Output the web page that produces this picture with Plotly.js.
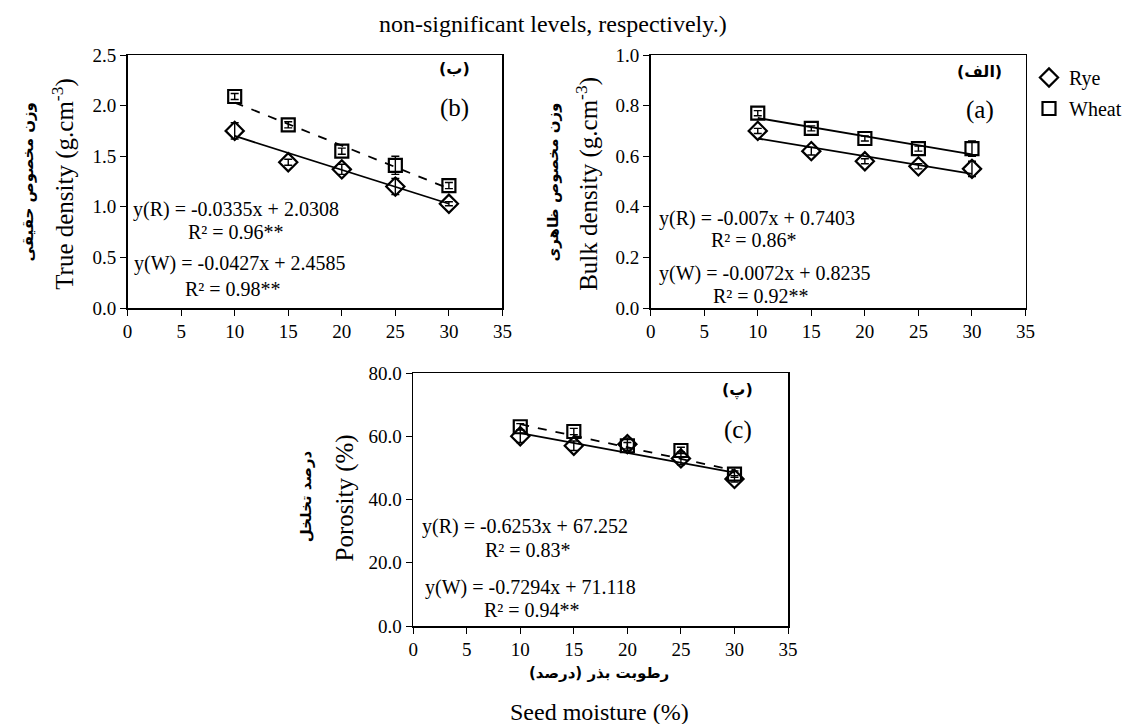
<!DOCTYPE html>
<html><head><meta charset="utf-8">
<script src="https://cdn.plot.ly/plotly-3.0.1.min.js"></script>
<style>html,body{margin:0;padding:0;background:#fff}#chart{width:1127px;height:724px}</style>
</head><body><div id="chart"></div>
<script>
// ---- data ----
const moisture = [10, 15, 20, 25, 30];
const fitX = [10, 30];
// (b) true density
const trueRye = [1.75, 1.44, 1.37, 1.20, 1.03];
const trueRyeErr = [0.08, 0.03, 0.05, 0.08, 0.02];
const trueWheat = [2.09, 1.81, 1.55, 1.41, 1.21];
const trueWheatErr = [0.03, 0.03, 0.03, 0.09, 0.03];
const trueRyeFit = [1.70, 1.03];
const trueWheatFit = [2.03, 1.18];
// (a) bulk density
const bulkRye = [0.70, 0.62, 0.58, 0.56, 0.55];
const bulkRyeErr = [0.01, 0.015, 0.01, 0.01, 0.03];
const bulkWheat = [0.77, 0.71, 0.67, 0.63, 0.63];
const bulkWheatErr = [0.01, 0.01, 0.01, 0.01, 0.03];
const bulkRyeFit = [0.670, 0.530];
const bulkWheatFit = [0.751, 0.607];
// (c) porosity
const porRye = [60.0, 57.0, 57.5, 53.0, 46.5];
const porRyeErr = [2.0, 1.5, 2.0, 2.0, 1.0];
const porWheat = [63.0, 61.5, 57.0, 55.5, 48.0];
const porWheatErr = [1.0, 1.0, 1.0, 1.0, 1.0];
const porRyeFit = [61.0, 48.5];
const porWheatFit = [63.8, 49.2];
const xTicks = [0, 5, 10, 15, 20, 25, 30, 35];
const seriesNames = ['Rye', 'Wheat'];

const serif = 'Liberation Serif';
const W = 1127, H = 724;
const px = (x) => x / W, py = (y) => 1 - y / H;

function markers(xa, ya, y, err, sym, name, show) {
  return {x: moisture, y: y, xaxis: xa, yaxis: ya, type: 'scatter', mode: 'markers',
    name: name, showlegend: show, legendgroup: name,
    marker: {symbol: sym, size: sym === 'diamond-open' ? 14 : 13, color: '#000', line: {width: 2.2, color: '#000'}},
    error_y: {type: 'data', array: err, visible: true, color: '#000', thickness: 1.4, width: 4}};
}
function fit(xa, ya, y, dash) {
  return {x: fitX, y: y, xaxis: xa, yaxis: ya, type: 'scatter', mode: 'lines', showlegend: false,
    hoverinfo: 'skip', line: {color: '#000', width: 1.8, dash: dash}};
}

const traces = [
  fit('x', 'y', trueRyeFit, 'solid'), fit('x', 'y', trueWheatFit, 'dash'),
  markers('x', 'y', trueRye, trueRyeErr, 'diamond-open', seriesNames[0], false),
  markers('x', 'y', trueWheat, trueWheatErr, 'square-open', seriesNames[1], false),
  fit('x2', 'y2', bulkRyeFit, 'solid'), fit('x2', 'y2', bulkWheatFit, 'solid'),
  markers('x2', 'y2', bulkRye, bulkRyeErr, 'diamond-open', seriesNames[0], true),
  markers('x2', 'y2', bulkWheat, bulkWheatErr, 'square-open', seriesNames[1], true),
  fit('x3', 'y3', porRyeFit, 'solid'), fit('x3', 'y3', porWheatFit, 'dash'),
  markers('x3', 'y3', porRye, porRyeErr, 'diamond-open', seriesNames[0], false),
  markers('x3', 'y3', porWheat, porWheatErr, 'square-open', seriesNames[1], false)
];

function xax(dom, anchor) {
  return {domain: dom, anchor: anchor, range: [0, 35], tickvals: xTicks, ticks: 'outside', ticklen: 6,
    tickcolor: '#000', showline: true, linecolor: '#000', linewidth: 1.5, mirror: true, showgrid: false,
    zeroline: false, tickfont: {family: serif, size: 19, color: '#000'}};
}
function yax(dom, anchor, range, dt) {
  return {domain: dom, anchor: anchor, range: range, dtick: dt, tick0: 0, tickformat: '.1f', ticks: 'outside', ticklen: 6,
    tickcolor: '#000', showline: true, linecolor: '#000', linewidth: 1.5, mirror: true, showgrid: false,
    zeroline: false, tickfont: {family: serif, size: 19, color: '#000'}};
}

const ann = [];
function txt(x, y, t, size, opts) {
  ann.push(Object.assign({xref: 'paper', yref: 'paper', x: px(x), y: py(y), text: t, showarrow: false,
    xanchor: 'left', yanchor: 'middle', font: {family: serif, size: size, color: '#000'}}, opts || {}));
}
const fa = 'DejaVu Sans';
const faFont = (s) => ({font: {family: fa, size: s, color: '#000', weight: 'bold'}});
const EQ = 20;
// top caption
txt(563, 24, 'non-significant levels, respectively.)', 24, {xanchor: 'center'});
// (b)
txt(64, 184, 'True density (g.cm<sup>-3</sup>)', 25, {xanchor: 'center', textangle: -90});
txt(29, 182, 'وزن مخصوص حقیقی', 15, Object.assign({xanchor: 'center', textangle: -90}, faFont(15)));
txt(481, 69, '(ب)', 16, Object.assign({xanchor: 'right'}, faFont(16)));
txt(480, 108, '(b)', 25, {xanchor: 'right'});
txt(133, 209, 'y(R) = -0.0335x + 2.0308', EQ);
txt(190, 232, 'R² = 0.96**', EQ);
txt(135, 264, 'y(W) = -0.0427x + 2.4585', EQ);
txt(186, 289, 'R² = 0.98**', EQ);
// (a)
txt(598, 184, 'Bulk density (g.cm<sup>-3</sup>)', 25, {xanchor: 'center', textangle: -90});
txt(564, 182, 'وزن مخصوص ظاهری', 15, Object.assign({xanchor: 'center', textangle: -90}, faFont(15)));
txt(1023, 71, '(الف)', 16, Object.assign({xanchor: 'right'}, faFont(16)));
txt(1015, 110, '(a)', 25, {xanchor: 'right'});
txt(669, 218, 'y(R) = -0.007x + 0.7403', EQ);
txt(722, 240, 'R² = 0.86*', EQ);
txt(669, 273, 'y(W) = -0.0072x + 0.8235', EQ);
txt(725, 296, 'R² = 0.92**', EQ);
// (c)
txt(352, 498, 'Porosity (%)', 25, {xanchor: 'center', textangle: -90});
txt(312, 496, 'درصد تخلخل', 15, Object.assign({xanchor: 'center', textangle: -90}, faFont(15)));
txt(769, 390, '(پ)', 16, Object.assign({xanchor: 'right'}, faFont(16)));
txt(768, 430, '(c)', 25, {xanchor: 'right'});
txt(428, 526, 'y(R) = -0.6253x + 67.252', EQ);
txt(492, 550, 'R² = 0.83*', EQ);
txt(431, 587, 'y(W) = -0.7294x + 71.118', EQ);
txt(491, 610, 'R² = 0.94**', EQ);
txt(610, 673, 'رطوبت بذر (درصد)', 15, Object.assign({xanchor: 'center'}, faFont(15)));
txt(611, 712, 'Seed moisture (%)', 24, {xanchor: 'center'});

const layout = {
  width: W, height: H, margin: {l: 0, r: 0, t: 0, b: 0}, paper_bgcolor: '#fff', plot_bgcolor: '#fff',
  font: {family: serif, size: 19, color: '#000'},
  showlegend: true,
  legend: {x: px(1049), y: py(58), xanchor: 'left', yanchor: 'top', bgcolor: 'rgba(0,0,0,0)',
    font: {family: serif, size: 20, color: '#000'}, itemwidth: 30, tracegroupgap: 2},
  xaxis: xax([px(130), px(512)], 'y'), yaxis: yax([py(308), py(55)], 'x', [0, 2.5], 0.5),
  xaxis2: xax([px(663), px(1045)], 'y2'), yaxis2: yax([py(308), py(55)], 'x2', [0, 1.0], 0.2),
  xaxis3: xax([px(421), px(803)], 'y3'), yaxis3: yax([py(626), py(373)], 'x3', [0, 80], 20),
  annotations: ann
};
Plotly.newPlot('chart', traces, layout, {displayModeBar: false, staticPlot: true});
</script></body></html>
